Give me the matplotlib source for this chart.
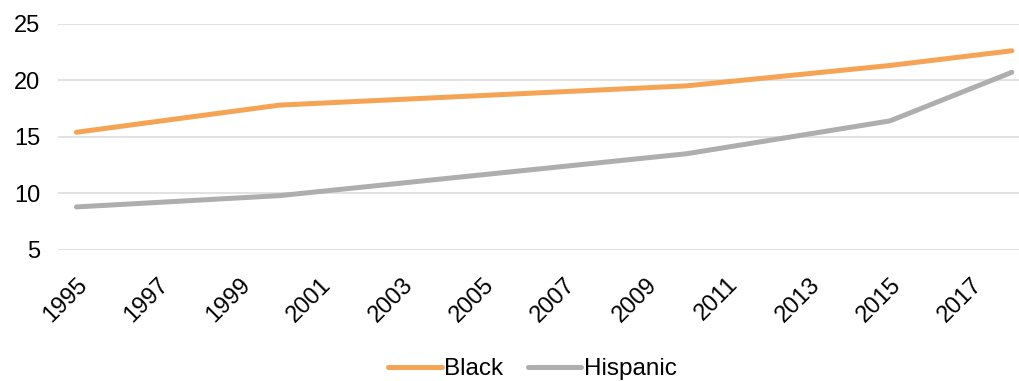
import numpy as np
import matplotlib
matplotlib.use("Agg")
import matplotlib.pyplot as plt

plt.rcParams["font.family"] = ["Liberation Sans", "DejaVu Sans"]

# Survey years and values for each group
years = [1995, 2000, 2010, 2015, 2018]
black = [15.4, 17.8, 19.5, 21.3, 22.6]
hispanic = [8.8, 9.8, 13.5, 16.4, 20.7]

tick_years = list(range(1995, 2018, 2))
y_ticks = [5, 10, 15, 20, 25]

ORANGE = "#F5A455"
GRAY = "#AEAEAE"

fig = plt.figure(figsize=(10.2, 3.81), dpi=100)
ax = fig.add_axes([0.057, 0.344, 0.943, 0.594])

ax.plot(years, black, color=ORANGE, lw=3.6, solid_capstyle="round",
        solid_joinstyle="round", label="Black", zorder=3)
ax.plot(years, hispanic, color=GRAY, lw=3.6, solid_capstyle="round",
        solid_joinstyle="round", label="Hispanic", zorder=3)

ax.set_xlim(1994.55, 2018.2)
ax.set_ylim(5, 25)
ax.set_yticks(y_ticks)
ax.set_xticks(tick_years)
ax.set_xticklabels([str(y) for y in tick_years], rotation=45, ha="right",
                   rotation_mode="anchor")

ax.grid(axis="y", color="#DDDDDD", lw=1.2, zorder=0)
ax.tick_params(axis="both", length=0, labelsize=17)
ax.tick_params(axis="y", pad=13)
ax.tick_params(axis="x", pad=17)
for s in ax.spines.values():
    s.set_visible(False)

fig.legend(loc="lower center", bbox_to_anchor=(0.522, -0.055), ncol=2,
           frameon=False, fontsize=17.5, handlelength=2.2, handletextpad=0.1,
           columnspacing=1.0)

fig.savefig("out.png", dpi=100)
